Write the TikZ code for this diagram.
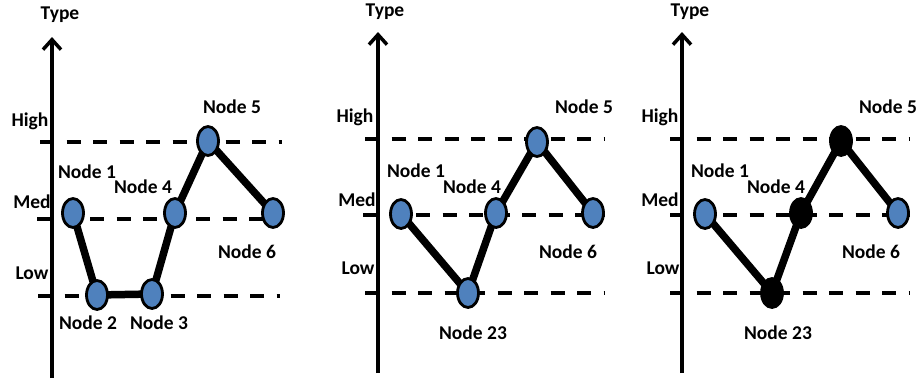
\documentclass[tikz,border=0pt]{standalone}
\usepackage{fontspec}
\setmainfont{Carlito}
\usetikzlibrary{shapes.geometric,arrows.meta}
\definecolor{nodeblue}{HTML}{4F81BD}
\pgfdeclarelayer{bg}
\pgfdeclarelayer{mid}
\pgfsetlayers{bg,mid,main}
\tikzset{
  lbl/.style={font=\fontsize{19.5}{21}\selectfont\bfseries, inner sep=0pt},
  axis/.style={line width=3.5pt, -{Straight Barb[length=10pt,width=18pt,line width=3.5pt]}},
  level/.style={line width=3.8pt, dash pattern=on 14pt off 12.5pt},
  link/.style={line width=7.5pt},
  vtx/.style={ellipse, draw=black, line width=2.8pt, fill=nodeblue, minimum width=21pt, minimum height=29pt, inner sep=0pt},
  vtxb/.style={vtx, fill=black}
}
\begin{document}
\begin{tikzpicture}[x=1pt,y=-1pt]
\useasboundingbox (0,0) rectangle (923,383);
\begin{pgfonlayer}{bg}
\fill[white] (0,0) rectangle (923,383);
\end{pgfonlayer}

% ---------- Panel 1 ----------
\coordinate (a1b) at (52,378); \coordinate (a1t) at (52,37);
\coordinate (h1l) at (40,142); \coordinate (h1r) at (282,142);
\coordinate (m1l) at (37,219); \coordinate (m1r) at (280,219);
\coordinate (l1l) at (38,296); \coordinate (l1r) at (280,296);
\node[lbl] (t1) at (60,15) {Type};
\node[lbl] (hi1) at (30,121) {High};
\node[lbl] (me1) at (32,202) {Med};
\node[lbl] (lo1) at (32,273) {Low};
\node[vtx] (p1n1) at (73,213) {};
\node[vtx] (p1n2) at (97,295) {};
\node[vtx] (p1n3) at (152,294) {};
\node[vtx] (p1n4) at (175,213) {};
\node[vtx] (p1n5) at (208,141) {};
\node[vtx] (p1n6) at (273,213) {};
\node[lbl] (p1l1) at (87,172) {Node 1};
\node[lbl] (p1l2) at (88,323) {Node 2};
\node[lbl] (p1l3) at (159,323) {Node 3};
\node[lbl] (p1l4) at (143,187) {Node 4};
\node[lbl] (p1l5) at (232,107) {Node 5};
\node[lbl] (p1l6) at (247,252) {Node 6};

% ---------- Panel 2 ----------
\coordinate (a2b) at (378,373); \coordinate (a2t) at (378,32);
\coordinate (h2l) at (365,139); \coordinate (h2r) at (605,139);
\coordinate (m2l) at (363,215); \coordinate (m2r) at (605,215);
\coordinate (l2l) at (365,293); \coordinate (l2r) at (605,293);
\node[lbl] (t2) at (385,12) {Type};
\node[lbl] (hi2) at (355,117) {High};
\node[lbl] (me2) at (357,200) {Med};
\node[lbl] (lo2) at (358,268) {Low};
\node[vtx] (p2n1) at (401,214) {};
\node[vtx] (p2n23) at (468,293) {};
\node[vtx] (p2n4) at (496,213) {};
\node[vtx] (p2n5) at (537,142) {};
\node[vtx] (p2n6) at (593,213) {};
\node[lbl] (p2l1) at (416,171) {Node 1};
\node[lbl] (p2l4) at (472,187) {Node 4};
\node[lbl] (p2l5) at (584,107) {Node 5};
\node[lbl] (p2l6) at (568,252) {Node 6};
\node[lbl] (p2l23) at (473,333) {Node 23};

% ---------- Panel 3 ----------
\coordinate (a3b) at (682,373); \coordinate (a3t) at (682,32);
\coordinate (h3l) at (670,139); \coordinate (h3r) at (910,139);
\coordinate (m3l) at (670,215); \coordinate (m3r) at (910,215);
\coordinate (l3l) at (670,293); \coordinate (l3r) at (910,293);
\node[lbl] (t3) at (690,12) {Type};
\node[lbl] (hi3) at (660,117) {High};
\node[lbl] (me3) at (660,200) {Med};
\node[lbl] (lo3) at (663,268) {Low};
\node[vtx] (p3n1) at (705,214) {};
\node[vtxb] (p3n23) at (772,293) {};
\node[vtxb] (p3n4) at (801,213) {};
\node[vtxb] (p3n5) at (841,141) {};
\node[vtx] (p3n6) at (898,213) {};
\node[lbl] (p3l1) at (720,171) {Node 1};
\node[lbl] (p3l4) at (776,187) {Node 4};
\node[lbl] (p3l5) at (888,107) {Node 5};
\node[lbl] (p3l6) at (871,252) {Node 6};
\node[lbl] (p3l23) at (778,333) {Node 23};

% ---------- level lines and axes ----------
\begin{pgfonlayer}{bg}
\draw[level] (h1l) -- (h1r);
\draw[level] (m1l) -- (m1r);
\draw[level] (l1l) -- (l1r);
\draw[level] (h2l) -- (h2r);
\draw[level] (m2l) -- (m2r);
\draw[level] (l2l) -- (l2r);
\draw[level] (h3l) -- (h3r);
\draw[level] (m3l) -- (m3r);
\draw[level] (l3l) -- (l3r);
\draw[axis] (a1b) -- (a1t);
\draw[axis] (a2b) -- (a2t);
\draw[axis] (a3b) -- (a3t);
\end{pgfonlayer}

% ---------- links ----------
\begin{pgfonlayer}{mid}
\draw[link] (p1n1.center) -- (p1n2.center) -- (p1n3.center) -- (p1n4.center) -- (p1n5.center) -- (p1n6.center);
\draw[link] (p2n1.center) -- (p2n23.center) -- (p2n4.center) -- (p2n5.center) -- (p2n6.center);
\draw[link] (p3n1.center) -- (p3n23.center) -- (p3n4.center) -- (p3n5.center) -- (p3n6.center);
\end{pgfonlayer}
\end{tikzpicture}
\end{document}
